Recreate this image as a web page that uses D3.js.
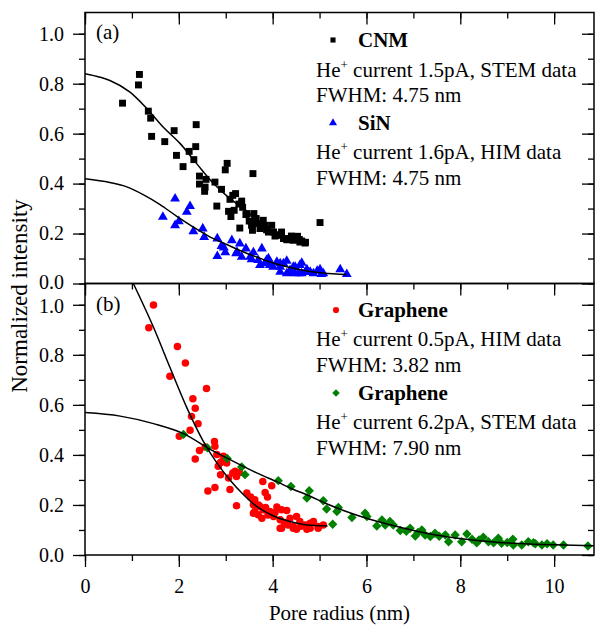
<!DOCTYPE html>
<html>
<head>
<meta charset="utf-8">
<script src="https://cdn.jsdelivr.net/npm/d3@7"></script>
<style>
  body { margin: 0; background: #fff; }
  svg text { font-family: "Liberation Serif", Tinos, "Times New Roman", "DejaVu Serif", serif !important; fill: #000; }
</style>
</head>
<body>
<div id="chart"></div>
<script>
// data: [pore radius (nm), normalized intensity]
const cnmPoints = [
  [0.80,0.722],[1.14,0.795],[1.16,0.837],[1.35,0.690],[1.40,0.662],[1.42,0.589],[1.70,0.568],
  [1.90,0.612],[1.95,0.513],[2.09,0.468],[2.22,0.529],[2.32,0.496],[2.36,0.548],[2.37,0.636],
  [2.44,0.430],[2.44,0.398],[2.55,0.369],[2.56,0.386],[2.58,0.417],[2.77,0.406],[2.81,0.310],
  [2.91,0.377],[2.99,0.455],[3.03,0.481],[3.06,0.289],[3.09,0.337],[3.11,0.268],[3.15,0.353],
  [3.18,0.293],[3.21,0.360],[3.28,0.318],[3.30,0.222],[3.34,0.330],[3.36,0.305],[3.43,0.276],
  [3.45,0.280],[3.50,0.250],[3.55,0.233],[3.57,0.213],[3.58,0.440],[3.60,0.280],[3.62,0.260],
  [3.65,0.260],[3.69,0.240],[3.73,0.220],[3.75,0.230],[3.80,0.253],[3.84,0.233],[3.87,0.215],
  [3.91,0.206],[3.98,0.233],[4.02,0.206],[4.05,0.190],[4.09,0.193],[4.15,0.195],[4.19,0.206],
  [4.23,0.180],[4.30,0.175],[4.34,0.180],[4.40,0.190],[4.44,0.173],[4.53,0.189],[4.57,0.176],
  [4.58,0.166],[4.62,0.170],[4.69,0.162],[4.70,0.165],[5.01,0.244]
];
const sinPoints = [
  [1.66,0.267],[1.92,0.340],[1.92,0.233],[2.00,0.249],[2.17,0.287],[2.24,0.310],[2.31,0.209],
  [2.51,0.220],[2.54,0.186],[2.82,0.180],[2.82,0.109],[2.91,0.150],[2.96,0.144],[2.99,0.124],
  [3.13,0.173],[3.22,0.120],[3.24,0.126],[3.30,0.160],[3.34,0.106],[3.43,0.140],[3.52,0.106],
  [3.55,0.096],[3.59,0.124],[3.69,0.093],[3.73,0.073],[3.77,0.140],[3.84,0.080],[3.87,0.093],
  [3.91,0.100],[3.94,0.073],[3.94,0.086],[4.01,0.066],[4.09,0.086],[4.16,0.066],[4.16,0.046],
  [4.16,0.080],[4.23,0.080],[4.30,0.090],[4.30,0.040],[4.37,0.053],[4.40,0.045],[4.44,0.066],
  [4.48,0.040],[4.48,0.066],[4.55,0.040],[4.58,0.073],[4.62,0.082],[4.62,0.040],[4.70,0.045],
  [4.73,0.056],[4.80,0.046],[4.87,0.040],[4.95,0.050],[5.01,0.056],[5.04,0.037],[5.08,0.040],
  [5.44,0.056],[5.58,0.037]
];
const grapheneHimPoints = [
  [1.36,0.908],[1.46,0.999],[1.81,0.714],[1.97,0.833],[2.01,0.475],[2.14,0.767],[2.24,0.499],
  [2.27,0.554],[2.30,0.624],[2.35,0.586],[2.35,0.384],[2.41,0.525],[2.44,0.418],[2.56,0.432],
  [2.59,0.665],[2.62,0.256],[2.76,0.454],[2.77,0.435],[2.77,0.270],[2.81,0.402],[2.84,0.355],
  [2.88,0.368],[2.89,0.321],[2.90,0.372],[2.95,0.395],[3.02,0.368],[3.06,0.308],[3.09,0.262],
  [3.15,0.328],[3.20,0.335],[3.23,0.314],[3.23,0.197],[3.29,0.330],[3.45,0.248],[3.53,0.232],
  [3.59,0.201],[3.59,0.167],[3.62,0.221],[3.62,0.174],[3.69,0.161],[3.70,0.200],[3.73,0.194],
  [3.77,0.147],[3.79,0.294],[3.80,0.181],[3.84,0.250],[3.85,0.190],[3.89,0.232],[3.90,0.160],
  [3.94,0.174],[3.98,0.277],[4.02,0.154],[4.05,0.170],[4.09,0.192],[4.16,0.141],[4.16,0.107],
  [4.19,0.181],[4.19,0.107],[4.25,0.130],[4.30,0.178],[4.33,0.120],[4.37,0.147],[4.44,0.114],
  [4.44,0.107],[4.51,0.154],[4.51,0.103],[4.58,0.134],[4.60,0.115],[4.69,0.120],[4.73,0.103],
  [4.80,0.127],[4.80,0.107],[4.87,0.134],[4.97,0.114],[4.97,0.107],[5.08,0.120]
];
const grapheneStemPoints = [
  [2.10,0.482],[2.61,0.428],[3.03,0.386],[3.34,0.352],[3.41,0.321],[4.12,0.297],[4.39,0.274],
  [4.78,0.257],[4.73,0.228],[5.08,0.217],[5.15,0.184],[5.28,0.123],[5.37,0.174],[5.40,0.190],
  [5.69,0.150],[5.97,0.167],[6.01,0.154],[6.22,0.116],[6.33,0.140],[6.40,0.120],[6.50,0.134],
  [6.57,0.120],[6.72,0.098],[6.85,0.095],[6.93,0.107],[7.04,0.076],[7.10,0.090],[7.18,0.100],
  [7.25,0.080],[7.36,0.074],[7.46,0.087],[7.55,0.075],[7.68,0.080],[7.75,0.053],[7.89,0.080],
  [8.03,0.053],[8.14,0.084],[8.25,0.063],[8.35,0.049],[8.40,0.060],[8.49,0.071],[8.60,0.053],
  [8.71,0.049],[8.81,0.067],[8.88,0.047],[9.00,0.050],[9.12,0.063],[9.13,0.040],[9.31,0.040],
  [9.45,0.053],[9.56,0.049],[9.60,0.045],[9.74,0.040],[9.85,0.045],[9.98,0.040],[10.20,0.040],
  [10.72,0.036]
];

// fitted curves
const cnmFit = [[0,0.840],[0.32,0.826],[0.53,0.813],[0.96,0.766],[1.32,0.700],[1.67,0.626],[2.03,0.560],
  [2.38,0.480],[2.74,0.400],[3.09,0.340],[3.38,0.300],[3.94,0.213],[4.44,0.176],[4.73,0.160]];
const sinFit = [[0,0.419],[0.53,0.404],[0.89,0.387],[1.24,0.356],[1.60,0.316],[1.95,0.270],[2.31,0.226],
  [2.67,0.186],[3.02,0.156],[3.38,0.126],[3.66,0.106],[4.01,0.082],[4.37,0.064],[4.73,0.050],
  [5.08,0.042],[5.58,0.036]];
const himFit = [[1.03,1.085],[1.46,0.910],[1.81,0.750],[2.17,0.589],[2.52,0.455],[2.81,0.368],[3.09,0.300],
  [3.38,0.241],[3.66,0.194],[4.01,0.157],[4.37,0.134],[4.73,0.120],[5.17,0.116]];
const stemFit = [[0,0.569],[0.75,0.555],[1.46,0.525],[2.10,0.485],[2.67,0.422],[3.06,0.384],[3.66,0.328],
  [4.12,0.290],[4.41,0.265],[4.80,0.235],[5.15,0.205],[5.51,0.178],[5.93,0.151],[6.65,0.114],
  [7.36,0.084],[8.07,0.064],[8.78,0.051],[9.49,0.044],[10.20,0.040],[10.85,0.037]];

const xTicks = [0, 2, 4, 6, 8, 10];
const yTicks = [0, 0.2, 0.4, 0.6, 0.8, 1.0];

const W = 595, H = 626;
const pLeft = 85, pRight = 594, pTop = 12.5, pMid = 283.5, pBottom = 555;
const serif = '"Liberation Serif", Tinos, "Times New Roman", "DejaVu Serif", serif';

const svg = d3.select("#chart").append("svg")
  .attr("width", W).attr("height", H)
  .style("font-family", serif);

const x = d3.scaleLinear().domain([0, 10.85]).range([pLeft, pRight]);
const yA = d3.scaleLinear().domain([0, 1.085]).range([pMid, pTop]);
const yB = d3.scaleLinear().domain([0, 1.085]).range([pBottom, pMid]);

const minorX = d3.range(0, 11, 1);
const minorY = d3.range(0, 11, 1).map(d => d / 10);

function styleAxis(g) {
  g.attr("font-family", null);
  g.selectAll("path").remove();
  g.selectAll("line").attr("stroke", "#000").attr("stroke-width", 1.3);
  g.selectAll("text").style("font-size", "20px").style("font-family", serif).attr("fill", "#000");
}

function drawPanel(y, y0, y1, name, nudge) {
  // left axis, outward ticks with labels
  svg.append("g").attr("transform", `translate(${pLeft},0)`)
    .call(d3.axisLeft(y).tickValues(minorY).tickSize(6).tickFormat(""))
    .call(styleAxis);
  svg.append("g").attr("transform", `translate(${pLeft},0)`)
    .call(d3.axisLeft(y).tickValues(yTicks).tickSize(12).tickPadding(9).tickFormat(d3.format(".1f")))
    .call(styleAxis)
    .call(g => g.selectAll("text").attr("y", nudge));
  // right axis, inward ticks
  svg.append("g").attr("transform", `translate(${pRight},0)`)
    .call(d3.axisRight(y).tickValues(minorY).tickSize(-6).tickFormat(""))
    .call(styleAxis);
  svg.append("g").attr("transform", `translate(${pRight},0)`)
    .call(d3.axisRight(y).tickValues(yTicks).tickSize(-12).tickFormat(""))
    .call(styleAxis);

  svg.append("defs").append("clipPath").attr("id", "clip-" + name)
    .append("rect").attr("x", pLeft).attr("y", y1).attr("width", pRight - pLeft).attr("height", y0 - y1);
}

// keep the touching "0.0" / "1.0" labels at the panel join apart
drawPanel(yA, pMid, pTop, "a", d => d === 0 ? -1.5 : 0);
drawPanel(yB, pBottom, pMid, "b", d => d === 1 ? 1.5 : 0);

// top of (a): inward ticks
svg.append("g").attr("transform", `translate(0,${pTop})`)
  .call(d3.axisTop(x).tickValues(minorX).tickSize(-6).tickFormat("")).call(styleAxis);
svg.append("g").attr("transform", `translate(0,${pTop})`)
  .call(d3.axisTop(x).tickValues(xTicks).tickSize(-12).tickFormat("")).call(styleAxis);
// between panels: ticks pointing down into (b)
svg.append("g").attr("transform", `translate(0,${pMid})`)
  .call(d3.axisBottom(x).tickValues(minorX).tickSize(6).tickFormat("")).call(styleAxis);
svg.append("g").attr("transform", `translate(0,${pMid})`)
  .call(d3.axisBottom(x).tickValues(xTicks).tickSize(12).tickFormat("")).call(styleAxis);
// bottom axis with labels
svg.append("g").attr("transform", `translate(0,${pBottom})`)
  .call(d3.axisBottom(x).tickValues(minorX).tickSize(6).tickFormat("")).call(styleAxis);
svg.append("g").attr("transform", `translate(0,${pBottom})`)
  .call(d3.axisBottom(x).tickValues(xTicks).tickSize(12).tickPadding(12).tickFormat(d3.format("d"))).call(styleAxis);

// frames
[[pTop, pMid], [pMid, pBottom]].forEach(([a, b]) => {
  svg.append("rect").attr("x", pLeft).attr("y", a).attr("width", pRight - pLeft).attr("height", b - a)
    .attr("fill", "none").attr("stroke", "#000").attr("stroke-width", 1.5);
});

// markers
const sym = (type, size) => d3.symbol().type(type).size(size);
function drawPoints(data, y, type, size, color, rotate) {
  svg.append("g").selectAll("path").data(data).enter().append("path")
    .attr("d", sym(type, size))
    .attr("transform", d => `translate(${x(d[0])},${y(d[1])})` + (rotate ? " rotate(45)" : ""))
    .attr("fill", color);
}

const line = (y) => d3.line().x(d => x(d[0])).y(d => y(d[1])).curve(d3.curveMonotoneX);

drawPoints(cnmPoints, yA, d3.symbolSquare, 48, "#000000", false);
drawPoints(sinPoints, yA, d3.symbolTriangle, 42, "#0000ff", false);
drawPoints(grapheneHimPoints, yB, d3.symbolCircle, 44, "#ff0000", false);
drawPoints(grapheneStemPoints, yB, d3.symbolSquare, 44, "#008000", true);

[[cnmFit, yA, "a"], [sinFit, yA, "a"], [himFit, yB, "b"], [stemFit, yB, "b"]].forEach(([d, y, p]) => {
  svg.append("path").datum(d).attr("d", line(y)).attr("clip-path", `url(#clip-${p})`)
    .attr("fill", "none").attr("stroke", "#000").attr("stroke-width", 1.5);
});

// panel labels
svg.append("text").attr("x", 96).attr("y", 39).style("font-size", "21px").text("(a)");
svg.append("text").attr("x", 96).attr("y", 311).style("font-size", "21px").text("(b)");

// legends
const legendFont = "21px";
function legendEntry(mx, my, type, size, color, rotate, name, ny, current, cy, fwhm, fy) {
  svg.append("path").attr("d", sym(type, size))
    .attr("transform", `translate(${mx},${my})` + (rotate ? " rotate(45)" : ""))
    .attr("fill", color);
  svg.append("text").attr("x", 358).attr("y", ny).style("font-size", legendFont)
    .style("font-weight", "bold").text(name);
  const t = svg.append("text").attr("x", 316).attr("y", cy).style("font-size", legendFont);
  t.append("tspan").text("He");
  t.append("tspan").attr("dy", -8).style("font-size", "13px").text("+");
  t.append("tspan").attr("dy", 8).text(" " + current);
  svg.append("text").attr("x", 316).attr("y", fy).style("font-size", legendFont).text(fwhm);
}

legendEntry(333, 40, d3.symbolSquare, 26, "#000000", false, "CNM", 47, "current 1.5pA, STEM data", 77, "FWHM: 4.75 nm", 102);
legendEntry(333, 123, d3.symbolTriangle, 28, "#0000ff", false, "SiN", 130, "current 1.6pA, HIM data", 159, "FWHM: 4.75 nm", 185);
legendEntry(336, 310, d3.symbolCircle, 30, "#ff0000", false, "Graphene", 317, "current 0.5pA, HIM data", 346, "FWHM: 3.82 nm", 372);
legendEntry(336, 393, d3.symbolSquare, 28, "#008000", true, "Graphene", 400, "current 6.2pA, STEM data", 429, "FWHM: 7.90 nm", 455);

// axis titles
svg.append("text").attr("x", (pLeft + pRight) / 2).attr("y", 620).attr("text-anchor", "middle")
  .style("font-size", "21px").text("Pore radius (nm)");
svg.append("text").attr("transform", "translate(27,296) rotate(-90)").attr("text-anchor", "middle")
  .style("font-size", "23px").text("Normalized intensity");
</script>
</body>
</html>
